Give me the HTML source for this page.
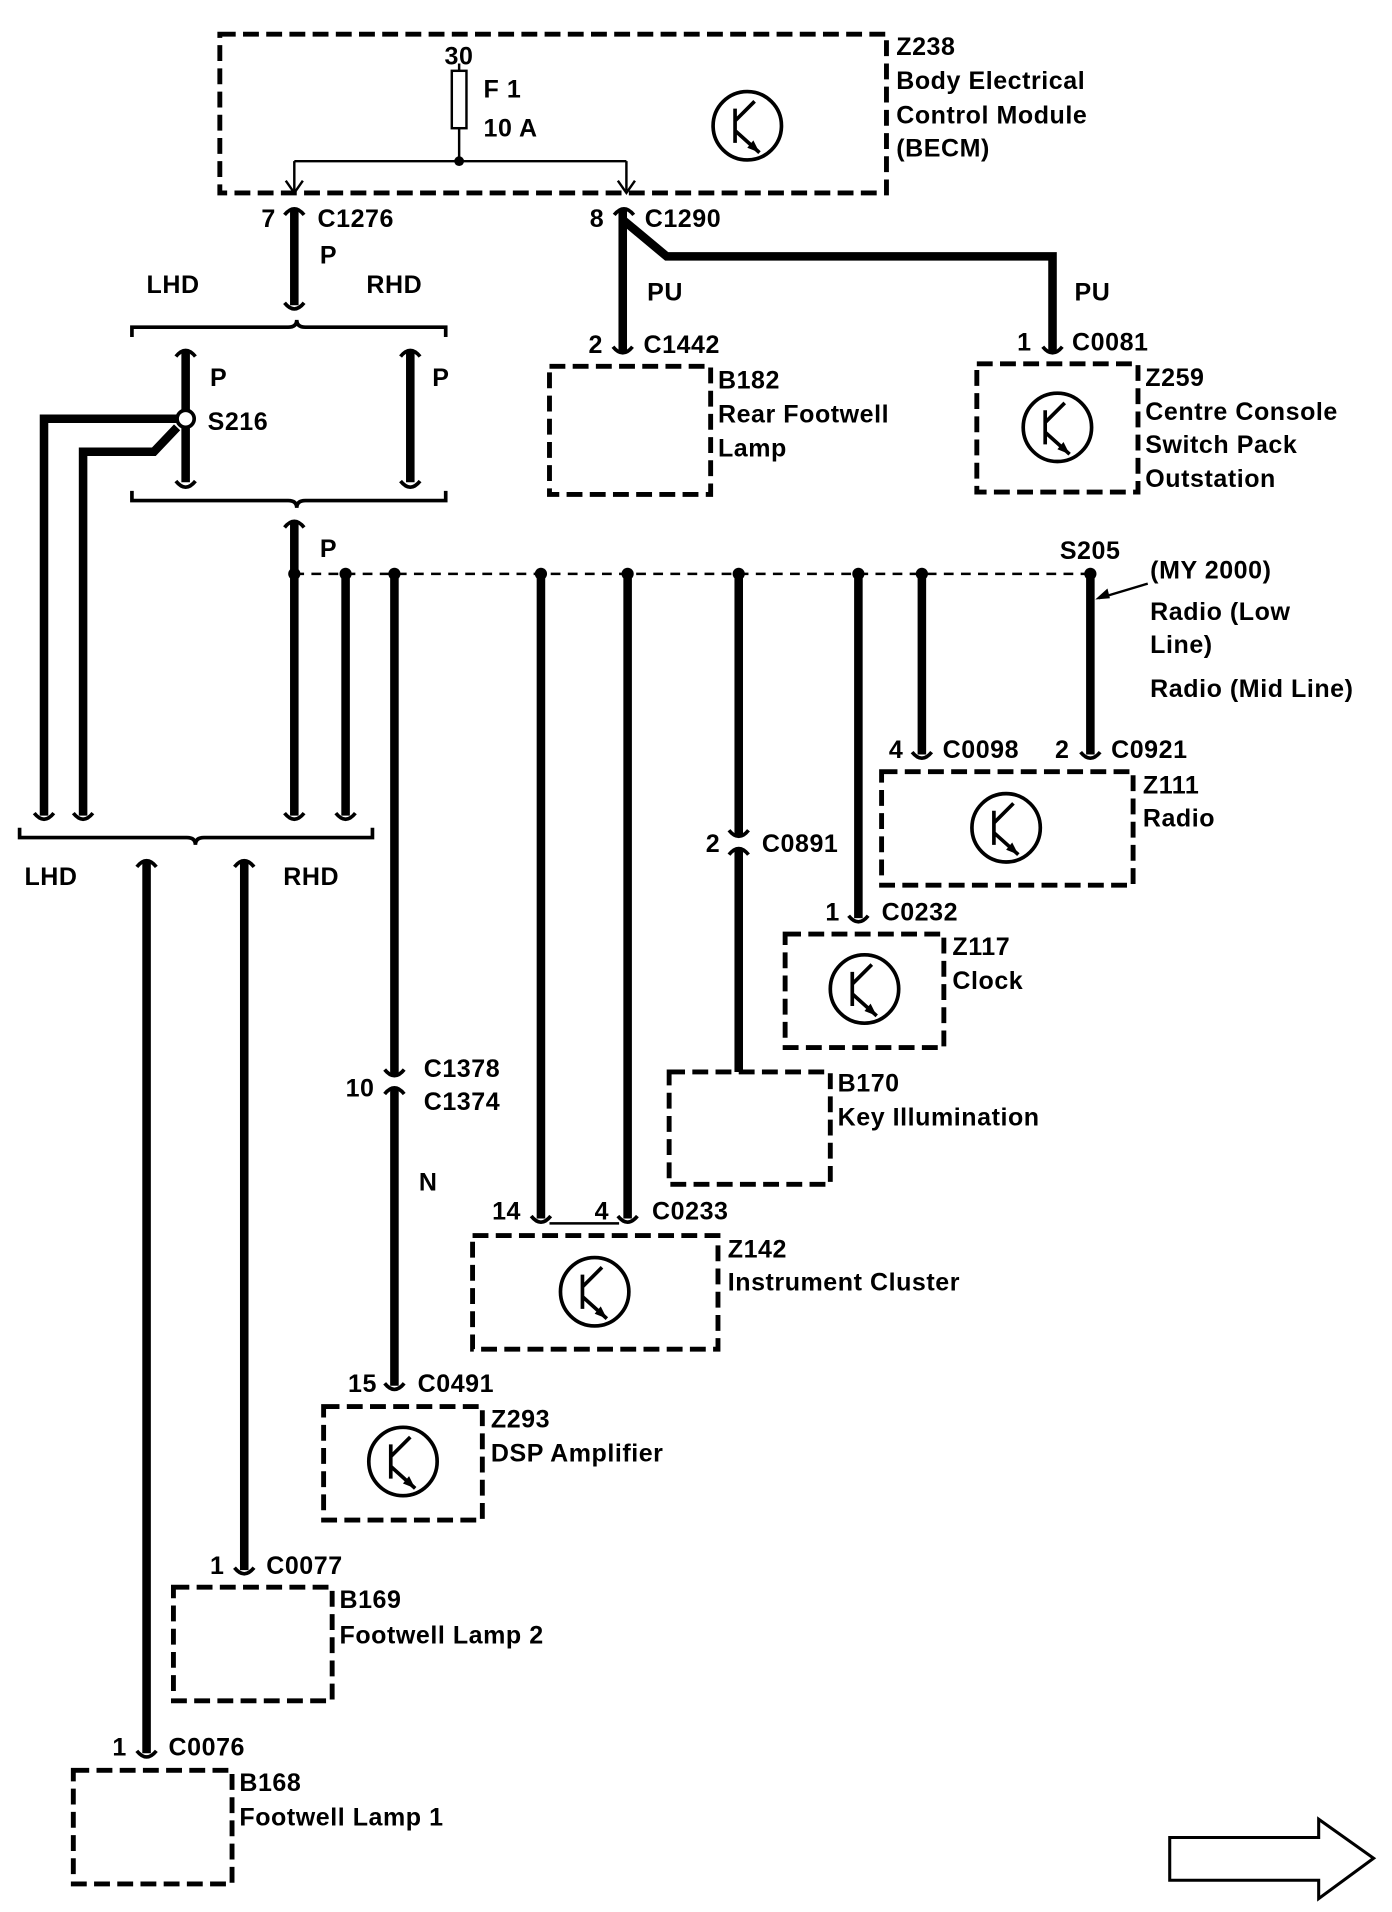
<!DOCTYPE html>
<html><head><meta charset="utf-8"><style>
html,body{margin:0;padding:0;background:#fff}
svg{display:block}
text{font-family:"Liberation Sans",Arial,sans-serif;font-weight:bold;font-size:20.5px;letter-spacing:0.45px;fill:#000}
.d{fill:none;stroke:#000;stroke-width:4;stroke-dasharray:13,6}
.w{fill:none;stroke:#000;stroke-width:7}
.t{fill:none;stroke:#000;stroke-width:2}
.c{fill:none;stroke:#000;stroke-width:3}
</style></head><body>
<svg width="1392" height="1912" viewBox="0 0 1140 1566" xmlns="http://www.w3.org/2000/svg">
<defs>
<g id="tr"><circle cx="0" cy="0" r="28" class="c"/><path d="M-10,-14 V14 M-10,-4 L6,-20 M-10,4 L10,22" class="c"/><path d="M10,22 L0,18 L5,12 Z" fill="#000"/></g>
<g id="cn"><path d="M-8,-6 Q0,4 8,-6" class="c"/></g>
<g id="cu"><path d="M-8,6 Q0,-4 8,6" class="c"/></g>
</defs>

<!-- BECM -->
<rect x="180" y="28" width="546" height="130" class="d"/>
<rect x="370" y="58" width="12" height="47" class="t"/>
<path d="M376,52 V58 M376,105 V132 M241,132 H513 M241,132 V156 M513,132 V156" class="t"/>
<path d="M234,148 L241,158 L248,148 M506,148 L513,158 L520,148" class="t"/>
<circle cx="376" cy="132" r="4"/>
<use href="#tr" x="612" y="103"/>
<text x="364" y="53">30</text><text x="396" y="80">F 1</text><text x="396" y="112">10 A</text>
<text x="734" y="45">Z238</text><text x="734" y="73">Body Electrical</text><text x="734" y="101">Control Module</text><text x="734" y="128">(BECM)</text>

<!-- C1276 -->
<text x="214" y="186">7</text><text x="260" y="186">C1276</text><text x="262" y="216">P</text>
<use href="#cu" x="241" y="170"/>
<path d="M241,172 V250" class="w"/><use href="#cn" x="241" y="254"/>
<text x="120" y="240">LHD</text><text x="300" y="240">RHD</text>
<path d="M108,276 V268 H236 Q243,268 243,262 Q243,268 250,268 H365 V276" class="c"/>

<!-- C1290 -->
<text x="483" y="186">8</text><text x="528" y="186">C1290</text>
<use href="#cu" x="511" y="170"/>
<path d="M510,172 V288 M510,180 L546,210 H862 V288" class="w"/>
<text x="530" y="246">PU</text><text x="880" y="246">PU</text>
<use href="#cn" x="510" y="290"/><use href="#cn" x="862" y="290"/>
<text x="482" y="289">2</text><text x="527" y="289">C1442</text>
<text x="833" y="287">1</text><text x="878" y="287">C0081</text>
<rect x="450" y="300" width="132" height="105" class="d"/>
<text x="588" y="318">B182</text><text x="588" y="346">Rear Footwell</text><text x="588" y="374">Lamp</text>
<rect x="800" y="298" width="132" height="105" class="d"/>
<use href="#tr" x="866" y="350"/>
<text x="938" y="316">Z259</text><text x="938" y="344">Centre Console</text><text x="938" y="371">Switch Pack</text><text x="938" y="399">Outstation</text>

<!-- S216 section -->
<use href="#cu" x="152" y="286"/><use href="#cu" x="336" y="286"/>
<path d="M152,288 V395 M336,288 V395" class="w"/>
<use href="#cn" x="152" y="400"/><use href="#cn" x="336" y="400"/>
<text x="172" y="316">P</text><text x="354" y="316">P</text>
<path d="M152,343 H36 V668 M145,350 L126,370 H68 V668" class="w"/>
<circle cx="152" cy="343" r="7" fill="#fff" stroke="#000" stroke-width="3"/>
<text x="170" y="352">S216</text>
<path d="M108,402 V410 H236 Q243,410 243,416 Q243,410 250,410 H365 V402" class="c"/>

<!-- P bus -->
<use href="#cu" x="241" y="426"/>
<path d="M241,428 V668 M283,470 V668" class="w"/>
<text x="262" y="456">P</text>
<path d="M241,470 H893" class="t" stroke-dasharray="8,6"/>
<g fill="#000"><circle cx="241" cy="470" r="5"/><circle cx="283" cy="470" r="5"/><circle cx="323" cy="470" r="5"/><circle cx="443" cy="470" r="5"/><circle cx="514" cy="470" r="5"/><circle cx="605" cy="470" r="5"/><circle cx="703" cy="470" r="5"/><circle cx="755" cy="470" r="5"/><circle cx="893" cy="470" r="5"/></g>
<text x="868" y="458">S205</text>
<text x="942" y="474">(MY 2000)</text>
<path d="M940,478 L900,490" class="t"/><path d="M897,491 L907,482 L909,490 Z" fill="#000"/>
<text x="942" y="508">Radio (Low</text><text x="942" y="535">Line)</text><text x="942" y="571">Radio (Mid Line)</text>

<!-- Radio -->
<path d="M755,470 V618 M893,470 V618" class="w"/>
<use href="#cn" x="755" y="622"/><use href="#cn" x="893" y="622"/>
<text x="728" y="621">4</text><text x="772" y="621">C0098</text><text x="864" y="621">2</text><text x="910" y="621">C0921</text>
<rect x="722" y="632" width="206" height="93" class="d"/><use href="#tr" x="824" y="678"/>
<text x="936" y="650">Z111</text><text x="936" y="677">Radio</text>

<!-- Clock -->
<path d="M703,470 V752" class="w"/><use href="#cn" x="703" y="756"/>
<text x="676" y="754">1</text><text x="722" y="754">C0232</text>
<rect x="643" y="765" width="130" height="93" class="d"/><use href="#tr" x="708" y="810"/>
<text x="780" y="782">Z117</text><text x="780" y="810">Clock</text>

<!-- Key illum -->
<path d="M605,470 V684 M605,696 V878" class="w"/>
<use href="#cn" x="605" y="686"/><use href="#cu" x="605" y="694"/>
<text x="578" y="698">2</text><text x="624" y="698">C0891</text>
<rect x="548" y="878" width="132" height="92" class="d"/>
<text x="686" y="894">B170</text><text x="686" y="922">Key Illumination</text>

<!-- Instrument cluster -->
<path d="M443,470 V998 M514,470 V998" class="w"/>
<use href="#cn" x="443" y="1002"/><use href="#cn" x="514" y="1002"/>
<path d="M450,1002 H507" class="t"/>
<text x="403" y="999">14</text><text x="487" y="999">4</text><text x="534" y="999">C0233</text>
<rect x="387" y="1012" width="201" height="93" class="d"/><use href="#tr" x="487" y="1058"/>
<text x="596" y="1030">Z142</text><text x="596" y="1057">Instrument Cluster</text>

<!-- DSP -->
<path d="M323,470 V880 M323,892 V1135" class="w"/>
<use href="#cn" x="323" y="882"/><use href="#cu" x="323" y="890"/>
<text x="283" y="898">10</text><text x="347" y="882">C1378</text><text x="347" y="909">C1374</text><text x="343" y="975">N</text>
<use href="#cn" x="323" y="1139"/>
<text x="285" y="1140">15</text><text x="342" y="1140">C0491</text>
<rect x="265" y="1152" width="130" height="93" class="d"/><use href="#tr" x="330" y="1197"/>
<text x="402" y="1169">Z293</text><text x="402" y="1197">DSP Amplifier</text>

<!-- bottom bracket -->
<use href="#cn" x="36" y="672"/><use href="#cn" x="68" y="672"/><use href="#cn" x="241" y="672"/><use href="#cn" x="283" y="672"/>
<path d="M16,678 V686 H153 Q160,686 160,692 Q160,686 167,686 H305 V678" class="c"/>
<text x="20" y="725">LHD</text><text x="232" y="725">RHD</text>
<use href="#cu" x="120" y="704"/><use href="#cu" x="200" y="704"/>
<path d="M120,706 V1436 M200,706 V1286" class="w"/>
<use href="#cn" x="200" y="1290"/><use href="#cn" x="120" y="1440"/>
<text x="172" y="1289">1</text><text x="218" y="1289">C0077</text>
<rect x="142" y="1300" width="130" height="93" class="d"/>
<text x="278" y="1317">B169</text><text x="278" y="1346">Footwell Lamp 2</text>
<text x="92" y="1438">1</text><text x="138" y="1438">C0076</text>
<rect x="60" y="1450" width="130" height="93" class="d"/>
<text x="196" y="1467">B168</text><text x="196" y="1495">Footwell Lamp 1</text>

<!-- arrow -->
<path d="M958,1505 H1080 V1490 L1125,1522 L1080,1555 V1540 H958 Z" fill="none" stroke="#000" stroke-width="2.5"/>
</svg>
</body></html>
